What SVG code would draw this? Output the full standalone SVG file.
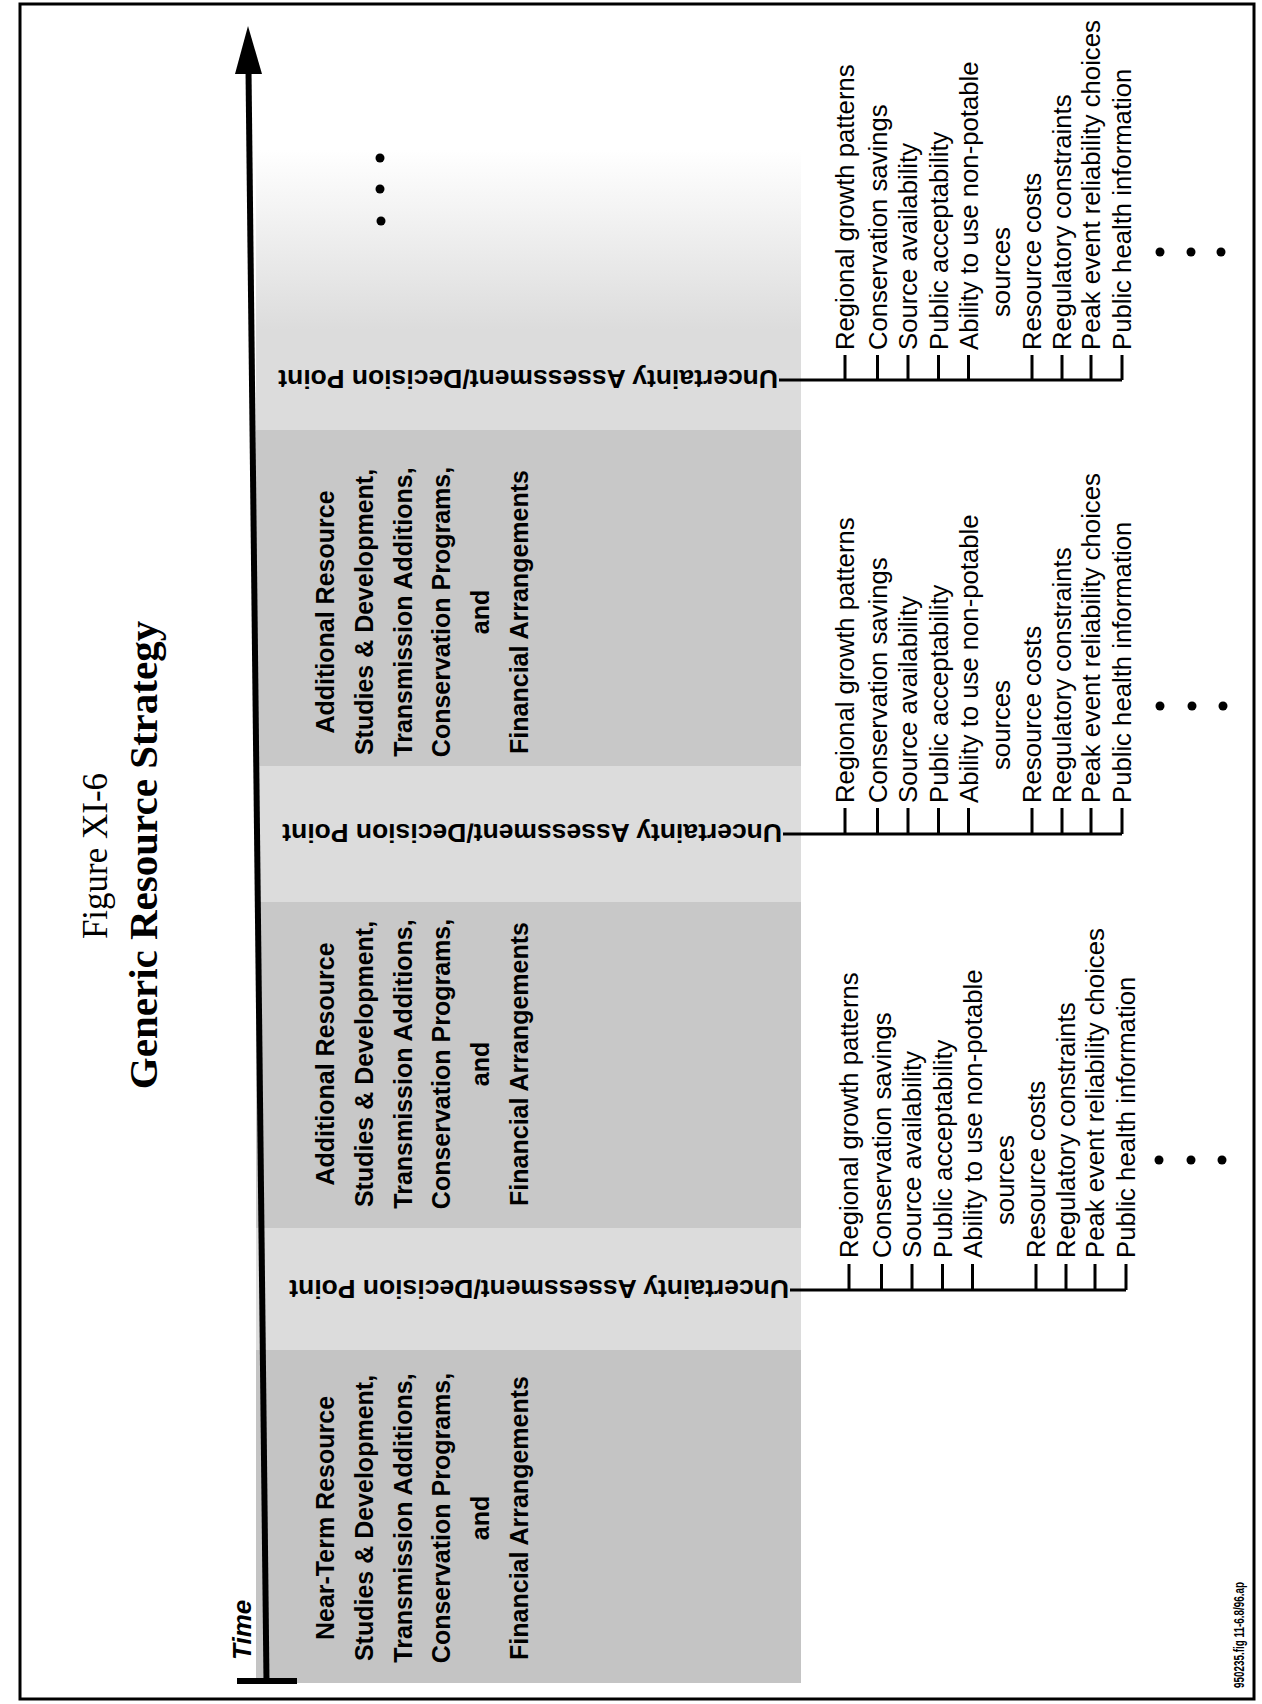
<svg xmlns="http://www.w3.org/2000/svg" width="1262" height="1704" viewBox="0 0 1262 1704">
<style>
.blk{font-family:"Liberation Sans",Arial,sans-serif;font-weight:bold;font-size:25px;fill:#000;text-anchor:middle}
.lbl{font-family:"Liberation Sans",Arial,sans-serif;font-weight:bold;font-size:26.5px;fill:#000}
.itm{font-family:"Liberation Sans",Arial,sans-serif;font-size:25.7px;fill:#000}
.ln{stroke:#000;stroke-width:3;fill:none}
.dot{fill:#000}
</style>
<defs>
<linearGradient id="fade" x1="0" y1="0" x2="0" y2="1">
<stop offset="0" stop-color="#dcdcdc" stop-opacity="0"/>
<stop offset="1" stop-color="#dcdcdc" stop-opacity="1"/>
</linearGradient>
</defs>
<rect x="0" y="0" width="1262" height="1704" fill="#fff"/>
<rect x="20" y="4" width="1234" height="1695" fill="none" stroke="#000" stroke-width="3"/>

<g id="shading">
<rect x="256" y="150" width="545" height="180" fill="url(#fade)"/>
<rect x="256" y="330" width="545" height="1353" fill="#dcdcdc"/>
<rect x="256" y="430" width="545" height="336" fill="#c8c8c8"/>
<rect x="256" y="902" width="545" height="326" fill="#c8c8c8"/>
<rect x="256" y="1350" width="545" height="333" fill="#c4c4c4"/>
</g>

<g id="title">
<text transform="translate(107,856) rotate(-90)" font-family="'Liberation Serif','Times New Roman',serif" font-size="35" text-anchor="middle">Figure XI-6</text>
<text transform="translate(157,855) rotate(-90)" font-family="'Liberation Serif','Times New Roman',serif" font-size="41" font-weight="bold" text-anchor="middle">Generic Resource Strategy</text>
</g>

<g id="time-axis">
<line x1="266.5" y1="1682" x2="248.5" y2="70" stroke="#000" stroke-width="6"/>
<polygon points="248,26 235,74 262,74" fill="#000"/>
<line x1="237" y1="1681" x2="297" y2="1681" stroke="#000" stroke-width="6"/>
<text transform="translate(251,1660) rotate(-90)" font-family="'Liberation Sans',Arial,sans-serif" font-size="26" font-weight="bold" font-style="italic">Time</text>
</g>

<g id="block-near-term">
<g transform="translate(0,1518) rotate(-90)">
<text class="blk" x="0" y="334">Near-Term Resource</text>
<text class="blk" x="0" y="373">Studies &amp; Development,</text>
<text class="blk" x="0" y="412">Transmission Additions,</text>
<text class="blk" x="0" y="450">Conservation Programs,</text>
<text class="blk" x="0" y="489">and</text>
<text class="blk" x="0" y="528">Financial Arrangements</text>
</g>
</g>

<g id="block-additional-1">
<g transform="translate(0,1064) rotate(-90)">
<text class="blk" x="0" y="334">Additional Resource</text>
<text class="blk" x="0" y="373">Studies &amp; Development,</text>
<text class="blk" x="0" y="412">Transmission Additions,</text>
<text class="blk" x="0" y="450">Conservation Programs,</text>
<text class="blk" x="0" y="489">and</text>
<text class="blk" x="0" y="528">Financial Arrangements</text>
</g>
</g>

<g id="block-additional-2">
<g transform="translate(0,612) rotate(-90)">
<text class="blk" x="0" y="334">Additional Resource</text>
<text class="blk" x="0" y="373">Studies &amp; Development,</text>
<text class="blk" x="0" y="412">Transmission Additions,</text>
<text class="blk" x="0" y="450">Conservation Programs,</text>
<text class="blk" x="0" y="489">and</text>
<text class="blk" x="0" y="528">Financial Arrangements</text>
</g>
</g>

<g id="continuation-dots">
<circle class="dot" cx="380" cy="158" r="4.5"/>
<circle class="dot" cx="380" cy="189" r="4.5"/>
<circle class="dot" cx="381" cy="221" r="4.5"/>
</g>

<g id="decision-point-1">
<text class="lbl" transform="translate(789,1280) rotate(180)">Uncertainty Assessment/Decision Point</text>
</g>
<g id="decision-point-2">
<text class="lbl" transform="translate(782,824) rotate(180)">Uncertainty Assessment/Decision Point</text>
</g>
<g id="decision-point-3">
<text class="lbl" transform="translate(778,370) rotate(180)">Uncertainty Assessment/Decision Point</text>
</g>

<g id="uncertainties-1">
<text class="itm" transform="translate(858,1258) rotate(-90)">Regional growth patterns</text>
<text class="itm" transform="translate(890.5,1258) rotate(-90)">Conservation savings</text>
<text class="itm" transform="translate(921,1258) rotate(-90)">Source availability</text>
<text class="itm" transform="translate(951.5,1258) rotate(-90)">Public acceptability</text>
<text class="itm" transform="translate(981.5,1258) rotate(-90)">Ability to use non-potable</text>
<text class="itm" transform="translate(1013.5,1225) rotate(-90)">sources</text>
<text class="itm" transform="translate(1045,1258) rotate(-90)">Resource costs</text>
<text class="itm" transform="translate(1075,1258) rotate(-90)">Regulatory constraints</text>
<text class="itm" transform="translate(1104,1258) rotate(-90)">Peak event reliability choices</text>
<text class="itm" transform="translate(1135,1258) rotate(-90)">Public health information</text>
<circle class="dot" cx="1159" cy="1160" r="4.5"/>
<circle class="dot" cx="1191" cy="1160" r="4.5"/>
<circle class="dot" cx="1222" cy="1160" r="4.5"/>
</g>

<g id="uncertainties-2">
<text class="itm" transform="translate(854,803) rotate(-90)">Regional growth patterns</text>
<text class="itm" transform="translate(886.5,803) rotate(-90)">Conservation savings</text>
<text class="itm" transform="translate(917,803) rotate(-90)">Source availability</text>
<text class="itm" transform="translate(947.5,803) rotate(-90)">Public acceptability</text>
<text class="itm" transform="translate(977.5,803) rotate(-90)">Ability to use non-potable</text>
<text class="itm" transform="translate(1009.5,770) rotate(-90)">sources</text>
<text class="itm" transform="translate(1041,803) rotate(-90)">Resource costs</text>
<text class="itm" transform="translate(1071,803) rotate(-90)">Regulatory constraints</text>
<text class="itm" transform="translate(1100,803) rotate(-90)">Peak event reliability choices</text>
<text class="itm" transform="translate(1131,803) rotate(-90)">Public health information</text>
<circle class="dot" cx="1160" cy="706" r="4.5"/>
<circle class="dot" cx="1192" cy="706" r="4.5"/>
<circle class="dot" cx="1223" cy="706" r="4.5"/>
</g>

<g id="uncertainties-3">
<text class="itm" transform="translate(854,350) rotate(-90)">Regional growth patterns</text>
<text class="itm" transform="translate(886.5,350) rotate(-90)">Conservation savings</text>
<text class="itm" transform="translate(917,350) rotate(-90)">Source availability</text>
<text class="itm" transform="translate(947.5,350) rotate(-90)">Public acceptability</text>
<text class="itm" transform="translate(977.5,350) rotate(-90)">Ability to use non-potable</text>
<text class="itm" transform="translate(1009.5,317) rotate(-90)">sources</text>
<text class="itm" transform="translate(1041,350) rotate(-90)">Resource costs</text>
<text class="itm" transform="translate(1071,350) rotate(-90)">Regulatory constraints</text>
<text class="itm" transform="translate(1100,350) rotate(-90)">Peak event reliability choices</text>
<text class="itm" transform="translate(1131,350) rotate(-90)">Public health information</text>
<circle class="dot" cx="1160" cy="252" r="4.5"/>
<circle class="dot" cx="1191" cy="252" r="4.5"/>
<circle class="dot" cx="1221" cy="252" r="4.5"/>
</g>

<g id="connectors">
<path class="ln" d="M790,1290 H1126 M849,1290 V1264 M881.5,1290 V1264 M912,1290 V1264 M942.5,1290 V1264 M972.5,1290 V1264 M1036,1290 V1264 M1066,1290 V1264 M1095,1290 V1264 M1126,1290 V1264"/>
<path class="ln" d="M783,834 H1122 M845,834 V808 M877.5,834 V808 M908,834 V808 M938.5,834 V808 M968.5,834 V808 M1032,834 V808 M1062,834 V808 M1091,834 V808 M1122,834 V808"/>
<path class="ln" d="M779,380 H1122 M845,380 V355 M877.5,380 V355 M908,380 V355 M938.5,380 V355 M968.5,380 V355 M1032,380 V355 M1062,380 V355 M1091,380 V355 M1122,380 V355"/>
</g>

<g id="footer">
<text transform="translate(1244,1688) rotate(-90)" font-family="'Liberation Sans',Arial,sans-serif" font-size="15" font-weight="bold" textLength="106" lengthAdjust="spacingAndGlyphs">950235.fig 11-6.8/96.ap</text>
</g>
</svg>
